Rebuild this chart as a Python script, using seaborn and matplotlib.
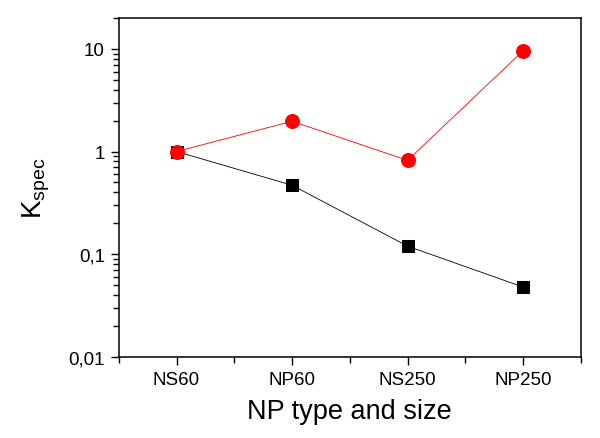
import pandas as pd
import matplotlib.pyplot as plt
import matplotlib.ticker as mticker
import seaborn as sns

# Data
categories = ['NS60', 'NP60', 'NS250', 'NP250']
black_series = [1.0, 0.47, 0.12, 0.048]
red_series = [1.0, 1.97, 0.82, 9.55]

df_black = pd.DataFrame({'np': categories, 'k': black_series})
df_red = pd.DataFrame({'np': categories, 'k': red_series})

sns.set_style('ticks')
plt.rcParams['font.family'] = ['Liberation Sans', 'DejaVu Sans']
plt.rcParams['mathtext.fontset'] = 'custom'
plt.rcParams['mathtext.rm'] = 'Liberation Sans'
plt.rcParams['text.color'] = 'black'
plt.rcParams['axes.labelcolor'] = 'black'

fig = plt.figure(figsize=(6, 4.39), dpi=100)
ax = fig.add_axes([0.198, 0.1845, 0.77, 0.7725])

sns.lineplot(x='np', y='k', data=df_black, color='black', marker='s',
             markersize=9, markeredgecolor='black', linewidth=0.6, ax=ax, sort=False)
sns.lineplot(x='np', y='k', data=df_red, color='red', marker='o',
             markersize=10, markeredgecolor='red', linewidth=0.6, ax=ax, sort=False)

ax.set_yscale('log')
ax.set_ylim(0.01, 20)
ax.set_xlim(-0.5, 3.5)

ax.yaxis.set_major_locator(mticker.FixedLocator([0.01, 0.1, 1, 10]))
ax.yaxis.set_major_formatter(mticker.FixedFormatter(['0,01', '0,1', '1', '10']))
ax.yaxis.set_minor_locator(mticker.LogLocator(base=10, subs=range(2, 10)))
ax.yaxis.set_minor_formatter(mticker.NullFormatter())
ax.xaxis.set_minor_locator(mticker.FixedLocator([-0.5, 0.5, 1.5, 2.5, 3.5]))

ax.tick_params(axis='both', which='major', direction='out', length=6, width=1,
               labelsize=13.5, colors='black', pad=4)
ax.tick_params(axis='both', which='minor', direction='out', length=4, width=1,
               colors='black')

for s in ax.spines.values():
    s.set_visible(True)
    s.set_color('black')
    s.set_linewidth(1.1)

ax.set_xlabel('NP type and size', fontsize=19.5, labelpad=7, color='black')
ax.set_ylabel(r'K$_{\mathregular{spec}}$', fontsize=20, labelpad=12, color='black')

fig.savefig('out.png', dpi=100)
